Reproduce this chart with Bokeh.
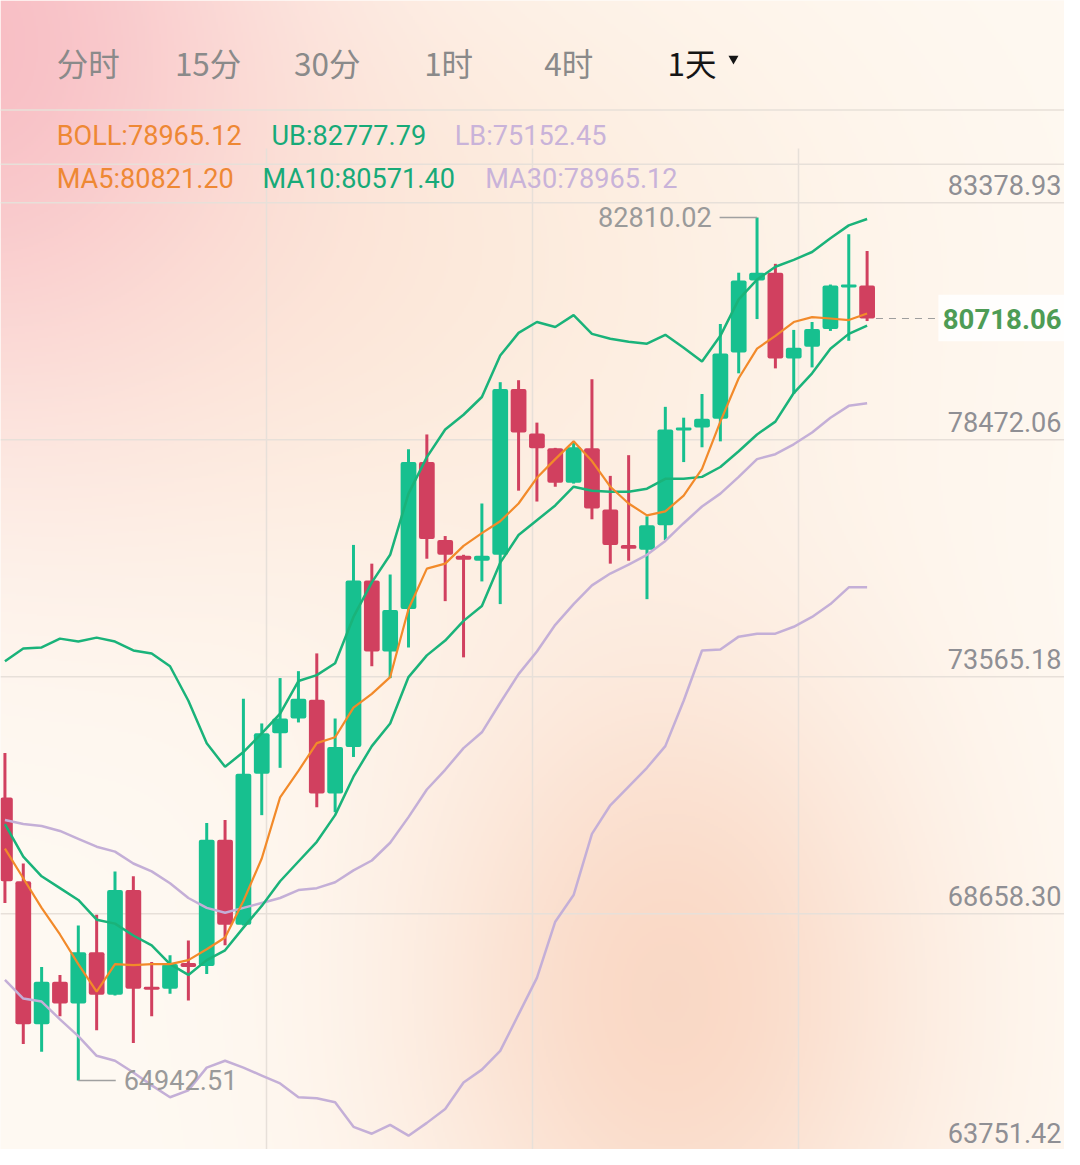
import numpy as np
from bokeh.plotting import figure
from bokeh.models import Range1d
from bokeh.core.properties import value
from bokeh.embed import file_html
from bokeh.resources import INLINE

# ---------------- data ----------------
opens = [70803.0, 69067.3, 66106.4, 66984.5, 66535.3, 67597.1, 66719.0, 68883.6, 66882.4, 66841.6,
         67372.5, 67311.2, 69925.0, 68168.9, 71293.1, 72130.3, 72436.6, 72824.6, 70884.7, 71844.5,
         75295.4, 73825.2, 74703.3, 77745.8, 76132.7, 75805.9, 75703.8, 75826.4, 79256.9, 78338.0,
         78031.7, 77317.0, 78031.7, 76765.7, 76030.6, 75928.5, 76439.0, 78399.3, 78460.5, 78644.3,
         80012.5, 81503.1, 81666.5, 79889.9, 80135.0, 80502.5, 81360.2, 81401.0]
highs = [71721.9, 69434.9, 67290.8, 67127.4, 68148.4, 68373.1, 69271.5, 69169.4, 67392.9, 67535.8,
         67842.1, 70272.1, 70333.4, 72845.0, 72334.5, 73273.9, 73416.8, 73784.4, 72436.6, 76030.6,
         75642.6, 75418.0, 78011.3, 78317.6, 76214.3, 75826.4, 76888.2, 79399.9, 79440.7, 78562.6,
         78040.0, 78174.7, 79461.1, 77460.0, 77888.8, 76622.7, 78889.4, 78664.7, 79154.8, 80604.6,
         81666.5, 82810.02, 81850.3, 80482.1, 80645.5, 81421.4, 82462.9, 82115.7]
lows = [68618.1, 65698.0, 65534.7, 66269.8, 64942.51, 65983.9, 66700.0, 65718.5, 66269.8, 66739.5,
        66596.5, 67147.9, 67740.0, 68150.0, 70435.5, 71415.6, 72355.0, 70598.8, 70496.7, 71640.3,
        73518.9, 73273.9, 73906.9, 75744.7, 74866.6, 73702.7, 75275.0, 74805.4, 77153.7, 76929.0,
        77235.3, 77300.0, 76561.5, 75642.6, 75703.8, 74907.5, 76132.7, 77745.8, 78052.1, 78174.7,
        79583.6, 80706.7, 79685.7, 79154.8, 79706.2, 80461.7, 80257.5, 80665.9]
closes = [69067.3, 66106.4, 66984.5, 66535.3, 67597.1, 66719.0, 68883.6, 66841.6, 66821.1, 67352.1,
          67290.8, 69925.0, 68168.9, 71293.1, 72130.3, 72436.6, 72845.0, 70884.7, 71844.5, 75295.4,
          73825.2, 74682.8, 77745.8, 76153.1, 75826.4, 75724.3, 75805.9, 79256.9, 78358.4, 78031.7,
          77317.0, 78052.1, 76786.1, 76030.6, 75948.9, 76439.0, 78419.7, 78460.5, 78644.3, 79992.0,
          81503.1, 81666.5, 79889.9, 80114.6, 80502.5, 81401.0, 81421.4, 80718.06]

ma5 = [69741.2, 69128.6, 68516.0, 67964.7, 67352.1, 66780.3, 67352.1, 67331.6, 67352.1, 67352.1,
       67433.7, 67658.4, 67903.4, 68658.9, 69537.0, 70803.0, 71354.4, 71926.1, 72048.7, 72661.3,
       72947.1, 73294.3, 74703.3, 75540.5, 75642.6, 76010.1, 76275.6, 76520.6, 76888.2, 77419.1,
       77807.1, 78174.7, 77766.3, 77235.3, 76888.2, 76643.2, 76724.8, 77051.6, 77602.9, 78583.1,
       79481.5, 80094.1, 80359.6, 80645.5, 80747.6, 80718.1, 80686.3, 80821.20]
ma10 = [70251.7, 69577.8, 69169.4, 68924.4, 68679.4, 68271.0, 68189.3, 67944.2, 67740.0, 67352.1,
        67127.4, 67433.7, 67637.9, 68107.6, 68556.8, 69067.3, 69475.7, 69884.1, 70435.5, 71231.9,
        71864.9, 72334.5, 73294.3, 73743.5, 74049.8, 74458.2, 74764.5, 75663.0, 76234.8, 76541.1,
        76847.4, 77235.3, 77153.7, 77133.2, 77133.2, 77194.5, 77398.7, 77398.7, 77439.5, 77643.7,
        77970.5, 78317.6, 78583.1, 79175.2, 79583.6, 80094.1, 80400.4, 80571.40]
ma30 = [70333.4, 70251.7, 70210.9, 70108.8, 69945.4, 69782.0, 69679.9, 69434.9, 69271.5, 69026.5,
        68720.2, 68516.0, 68413.9, 68516.0, 68618.1, 68720.2, 68883.6, 68924.4, 69046.9, 69292.0,
        69496.2, 69863.7, 70394.6, 70966.4, 71374.8, 71824.0, 72150.8, 72763.4, 73355.5, 73825.2,
        74376.5, 74805.4, 75193.3, 75438.4, 75622.2, 75826.4, 76112.2, 76479.8, 76826.9, 77092.4,
        77439.5, 77807.1, 77909.2, 78113.4, 78358.4, 78664.7, 78909.8, 78965.12]
ub = [73621.0, 73886.5, 73906.9, 74090.7, 74029.4, 74111.1, 74029.4, 73845.6, 73784.4, 73518.9,
      72804.2, 71926.1, 71436.1, 71742.4, 72130.3, 72538.7, 73212.6, 73335.1, 73580.2, 74539.9,
      75254.6, 75826.4, 77092.4, 77847.9, 78419.7, 78726.0, 79093.6, 79951.2, 80420.9, 80645.5,
      80543.4, 80788.4, 80400.4, 80298.3, 80237.1, 80196.2, 80380.0, 80114.6, 79828.7, 80359.6,
      81115.1, 81523.5, 81789.0, 81931.9, 82095.3, 82381.2, 82646.6, 82777.79]
lb = [67025.3, 66637.4, 66576.1, 66208.5, 65861.4, 65453.0, 65350.9, 65105.9, 64840.4, 64595.4,
      64738.3, 65208.0, 65350.9, 65208.0, 65044.6, 64881.2, 64595.4, 64574.9, 64493.3, 63982.8,
      63839.8, 64023.6, 63799.0, 64064.4, 64350.3, 64901.7, 65167.1, 65555.1, 66310.6, 67066.2,
      68230.1, 68781.5, 70047.5, 70639.7, 71027.7, 71415.6, 71864.9, 72804.2, 73845.6, 73866.0,
      74131.5, 74192.8, 74192.8, 74335.7, 74539.9, 74805.4, 75152.5, 75152.45]

tick_values = [83378.93, 78472.06, 73565.18, 68658.30, 63751.42]
tick_labels = ["83378.93", "78472.06", "73565.18", "68658.30", "63751.42"]
last_price = 80718.06
last_label = "80718.06"

tabs = ["分时", "15分", "30分", "1时", "4时", "1天"]
legend_row1 = ["BOLL:78965.12", "UB:82777.79", "LB:75152.45"]
legend_row2 = ["MA5:80821.20", "MA10:80571.40", "MA30:78965.12"]

# ---------------- styles / layout ----------------
UP = "#17C08F"
DOWN = "#D1405F"
C_ORANGE = "#F28A2A"
C_GREEN = "#1AB37A"
C_LILAC = "#C4AFD7"
T_ORANGE = "#EE8834"
T_GREEN = "#17AA78"
T_LILAC = "#C9B3D9"
GRID = "#E7E0D9"
LBL = "#8F8F94"

W, H = 1064, 1149            # figure size (page margin 8px)
RW, RH = 1080, 1165          # reference layout size (laid out in these units, scaled)
X0, DX = 4.5, 18.62          # layout x of first candle, spacing
Y0 = 220.0                   # layout y of the highest high
K = 20.42                    # price units per layout pixel
V0 = max(highs)


def fx(px):
    return (px - X0) / DX


def fy(py):
    return V0 - (py - Y0) * K


def spy(v):
    return Y0 + (V0 - v) / K


def fs(px):
    return f"{px * W / RW:.1f}px"


p = figure(width=W, height=H, output_backend="svg", toolbar_location=None,
           x_range=Range1d(fx(0), fx(RW)), y_range=Range1d(fy(RH), fy(0)),
           x_axis_location=None, y_axis_location=None, min_border=0)
p.grid.visible = False
p.outline_line_color = None
p.background_fill_color = "#FFFAF3"
p.border_fill_color = "#FFFAF3"

# ---- background gradient ----
gh, gw = 583, 540
ys_ref = RH - (np.arange(gh) + 0.5) * RH / gh
xs_ref = (np.arange(gw) + 0.5) * RW / gw
XX, YY = np.meshgrid(xs_ref, ys_ref)
col = np.zeros((gh, gw, 3))
col[:] = (255, 250, 243)


def blend(cx, cy, sx, sy, rgb, s):
    a = s * np.exp(-(((XX - cx) / sx) ** 2 + ((YY - cy) / sy) ** 2) / 2)
    col[:] = col * (1 - a[..., None]) + np.array(rgb, dtype=float) * a[..., None]


blend(360, 260, 360, 250, (252, 230, 212), 0.75)
blend(680, 1010, 190, 260, (249, 211, 190), 0.85)
blend(-40, 40, 220, 250, (248, 188, 195), 0.95)
rgba = np.zeros((gh, gw, 4), dtype=np.uint8)
rgba[..., :3] = np.clip(col, 0, 255).astype(np.uint8)
rgba[..., 3] = 255
img = np.ascontiguousarray(rgba).view(np.uint32).reshape(gh, gw)
p.image_rgba(image=[img], x=fx(0), y=fy(RH), dw=fx(RW) - fx(0), dh=fy(0) - fy(RH))

# ---- grid lines ----
grid_y = [fy(spy(v) + 13) for v in tick_values[:-1]]
sep_y = [fy(111), fy(166)]
hy = sep_y + grid_y
p.segment(x0=[fx(0)] * len(hy), x1=[fx(RW)] * len(hy), y0=hy, y1=hy,
          line_color=GRID, line_width=1.5)
vx = [fx(270), fx(540), fx(810)]
p.segment(x0=vx, x1=vx, y0=[fy(150)] * 3, y1=[fy(RH)] * 3, line_color=GRID, line_width=1.5)

# ---- candles ----
idx = list(range(len(opens)))
colors = [UP if c >= o else DOWN for o, c in zip(opens, closes)]
p.segment(x0=idx, x1=idx, y0=lows, y1=highs, line_color=colors, line_width=3)
p.vbar(x=idx, width=16 / DX, top=[max(o, c) for o, c in zip(opens, closes)],
       bottom=[min(o, c) for o, c in zip(opens, closes)], fill_color=colors,
       line_color=None, border_radius=2)

# ---- indicator lines ----
p.line(idx, lb, line_color=C_LILAC, line_width=2.5)
p.line(idx, ma30, line_color=C_LILAC, line_width=2.5)
p.line(idx, ma10, line_color=C_GREEN, line_width=2.5)
p.line(idx, ub, line_color=C_GREEN, line_width=2.5)
p.line(idx, ma5, line_color=C_ORANGE, line_width=2.2)

# ---- high / low markers ----
hi_i = int(np.argmax(highs))
lo_i = int(np.argmin(lows))
p.segment(x0=[hi_i - 38 / DX], x1=[hi_i], y0=[highs[hi_i]], y1=[highs[hi_i]],
          line_color="#A0A0A0", line_width=1.5)
p.text(x=[hi_i - 46 / DX], y=[highs[hi_i]], text=[f"{highs[hi_i]:.2f}"],
       text_font=value("Roboto"), text_font_size=fs(27.5), text_color="#9A9A9A",
       text_align="right", text_baseline="middle")
p.segment(x0=[lo_i], x1=[lo_i + 38 / DX], y0=[lows[lo_i]], y1=[lows[lo_i]],
          line_color="#A0A0A0", line_width=1.5)
p.text(x=[lo_i + 46 / DX], y=[lows[lo_i]], text=[f"{lows[lo_i]:.2f}"],
       text_font=value("Roboto"), text_font_size=fs(27.5), text_color="#9A9A9A",
       text_align="left", text_baseline="middle")

# ---- last price ----
last_i = len(closes) - 1
p.segment(x0=[last_i + 9 / DX], x1=[last_i + 70 / DX], y0=[last_price], y1=[last_price],
          line_color="#9E9E9E", line_width=1.2, line_dash="7 6")
p.quad(left=[fx(952)], right=[fx(RW + 10)], top=[fy(spy(last_price) - 24)],
       bottom=[fy(spy(last_price) + 23)], fill_color="#FFFFFF", fill_alpha=0.85, line_color=None)
p.text(x=[fx(1077)], y=[last_price], text=[last_label], text_font=value("Roboto"),
       text_font_size=fs(28), text_font_style="bold", text_color="#4E9C55",
       text_align="right", text_baseline="middle")

# ---- right price labels ----
p.text(x=[fx(1077)] * len(tick_values), y=[fy(spy(v) - 5) for v in tick_values], text=tick_labels,
       text_font=value("Roboto"), text_font_size=fs(27.5), text_color=LBL,
       text_align="right", text_baseline="middle")

# ---- tabs ----
tab_x = [57, 177, 298, 430, 552, 677]
tab_colors = ["#8A8A8A"] * 5 + ["#151515"]
p.text(x=[fx(v) for v in tab_x], y=[fy(62)] * len(tabs), text=tabs,
       text_font=value("Noto Sans CJK SC"), text_font_size=fs(32), text_color=tab_colors,
       text_align="left", text_baseline="middle")
p.scatter(x=[fx(744)], y=[fy(59)], marker="inverted_triangle", size=10,
          fill_color="#151515", line_color=None)

# ---- legends ----
p.text(x=[fx(57), fx(275), fx(461)], y=[fy(137)] * 3, text=legend_row1,
       text_font=value("Roboto"), text_font_size=fs(27.5),
       text_color=[T_ORANGE, T_GREEN, T_LILAC], text_align="left", text_baseline="middle")
p.text(x=[fx(57), fx(266), fx(492)], y=[fy(181)] * 3, text=legend_row2,
       text_font=value("Roboto"), text_font_size=fs(27.5),
       text_color=[T_ORANGE, T_GREEN, T_LILAC], text_align="left", text_baseline="middle")

open("out.html", "w").write(file_html(p, INLINE))
